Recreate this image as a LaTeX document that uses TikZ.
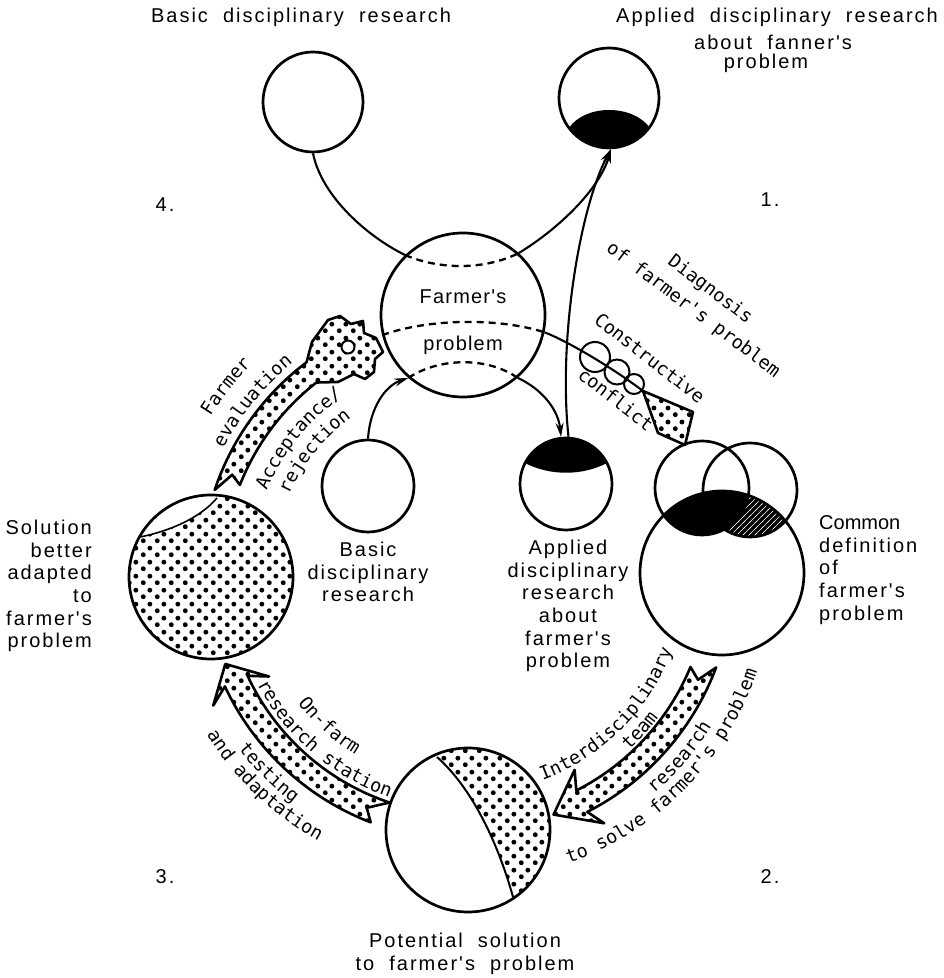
\documentclass[tikz,border=0pt]{standalone}
\usepackage{fontspec}
\usetikzlibrary{calc,arrows.meta,patterns,decorations.text,backgrounds}
\newfontfamily\labfont{Liberation Sans}[LetterSpace=10,WordSpace=2]
\newfontfamily\innerfont{Liberation Sans}[LetterSpace=6]
\newfontfamily\plainfont{Liberation Sans}
\newfontfamily\monofont{DejaVu Sans Mono}

\pgfdeclarepatternformonly{bigdots}{\pgfqpoint{0pt}{0pt}}{\pgfqpoint{14pt}{14pt}}{\pgfqpoint{14pt}{14pt}}{%
  \pgfpathcircle{\pgfqpoint{3.5pt}{3.5pt}}{2.6pt}%
  \pgfpathcircle{\pgfqpoint{10.5pt}{10.5pt}}{2.6pt}%
  \pgfusepath{fill}}
\pgfdeclarepatternformonly{slashes}{\pgfqpoint{-1pt}{-1pt}}{\pgfqpoint{7pt}{7pt}}{\pgfqpoint{6pt}{6pt}}{%
  \pgfsetlinewidth{0.7pt}%
  \pgfpathmoveto{\pgfqpoint{-1pt}{-1pt}}\pgfpathlineto{\pgfqpoint{7pt}{7pt}}\pgfusepath{stroke}}

\begin{document}
\begin{tikzpicture}[x=1pt, y=1pt,
    disc/.style={circle, draw, line width=2.7pt, inner sep=0pt},
    lab/.style={font=\labfont\fontsize{20}{22.6}\selectfont, inner sep=0pt},
    tw/.style={font=\monofont\fontsize{18.5}{18.5}\selectfont, inner sep=0pt},
    link/.style={line width=2.1pt},
    dashedarc/.style={line width=2.3pt, dash pattern=on 7pt off 5pt},
    arrowed/.style={-{Stealth[length=14pt,width=8pt]}},
    fatarrow/.style={line width=2.6pt, line join=round, pattern=bigdots},
    arctext/.style={decorate, decoration={text along path, text align=center,
        text={|\monofont\fontsize{18.5}{18.5}\selectfont|#1}}},
    ]

    \useasboundingbox (0,0) rectangle (944,978);

    % Circles
    \node[disc, minimum size=100pt] (basicTop) at (313,876) {};
    \node[disc, minimum size=100pt] (appliedTop) at (609,880) {};
    \node[disc, minimum size=164pt] (farmer) at (463,663) {};
    \node[disc, minimum size=92pt] (basicLow) at (368,492) {};
    \node[disc, minimum size=92pt] (appliedLow) at (566,494) {};
    \node[disc, minimum size=164pt] (common) at (722,405) {};
    \node[disc, minimum size=94pt] (viewA) at (702,490) {};
    \node[disc, minimum size=94pt] (viewB) at (750,488) {};
    \node[disc, minimum size=164pt] (potential) at (468,148) {};
    \node[disc, minimum size=164pt] (solution) at (211,401) {};
    \coordinate (cyc) at (466,404);
    \coordinate (clash) at (643,587);

    % Shading inside the circles
    \begin{scope}[on background layer]
    \fill[white] (0,0) rectangle (944,978);
    \begin{scope}
        \clip (appliedTop.center) circle[radius=50];
        \fill (569,850) .. controls (585,874) and (633,874) .. (650,850) -- (665,850) -- (665,820) -- (555,820) -- (555,850) -- cycle;
    \end{scope}
    \begin{scope}
        \clip (appliedLow.center) circle[radius=46];
        \fill (525,515) .. controls (550,502) and (582,502) .. (607,515) -- (615,515) -- (615,545) -- (515,545) -- (515,515) -- cycle;
    \end{scope}
    \begin{scope}
        \clip (common.center) circle[radius=82];
        \fill (viewA.center) circle[radius=47];
        \fill (viewB.center) circle[radius=47];
        \clip (viewB.center) circle[radius=47];
        \fill[pattern=slashes, pattern color=white, even odd rule] (viewA.center) circle[radius=47] (690,380) rectangle (810,545);
    \end{scope}
    \begin{scope}
        \clip (potential.center) circle[radius=82];
        \fill[pattern=bigdots] (437,221) .. controls (472,190) and (498,135) .. (513,81) -- (513,50) -- (560,50) -- (560,240) -- (437,240) -- cycle;
        \draw[line width=2pt] (437,221) .. controls (472,190) and (498,135) .. (513,81);
    \end{scope}
    \begin{scope}
        \clip (solution.center) circle[radius=82];
        \fill[pattern=bigdots] (solution.center) circle[radius=82];
        \fill[white] (140,441) .. controls (170,447) and (200,460) .. (217,480) -- (217,490) -- (120,490) -- (120,441) -- cycle;
        \draw[line width=1.6pt] (140,441) .. controls (170,447) and (200,460) .. (217,480);
    \end{scope}
    \end{scope}

    % Thin connectors
    \draw[link] (basicTop.south) .. controls (322,780) and (370,740) .. (farmer.134);
    \draw[dashedarc] (farmer.134) .. controls (440,708) and (485,708) .. (farmer.48);
    \draw[link, arrowed] (farmer.48) .. controls (560,750) and (600,790) .. (appliedTop.272);
    \draw[link, arrowed] (appliedLow.87) .. controls (558,640) and (580,770) .. (appliedTop.272);
    \draw[link, arrowed] (basicLow.north) .. controls (370,570) and (385,592) .. (farmer.229);
    \draw[dashedarc] (farmer.229) .. controls (440,621) and (488,621) .. (farmer.311);
    \draw[link, arrowed] (farmer.311) .. controls (540,590) and (558,570) .. (appliedLow.96);
    \draw[dashedarc] (farmer.194) .. controls (430,660) and (500,660) .. (farmer.348);
    \draw[link] (farmer.348) .. controls (565,638) and (610,612) .. (clash);

    % Constructive conflict
    \node[circle, draw, line width=2pt, minimum size=30pt] (talkA) at (595,621) {};
    \node[circle, draw, line width=2pt, minimum size=25pt] (talkB) at (617,606) {};
    \node[circle, draw, line width=2pt, minimum size=20pt] (talkC) at (634,594) {};
    \draw[fatarrow] (clash) -- (693,566) -- (685,533) -- (658,545) -- cycle;

    % Block arrows of the cycle
    \draw[fatarrow] ($(cyc)+(-22.5:243)$) arc[start angle=-22.5, end angle=-63, radius=243]
        -- ($(cyc)+(-61:224)$) -- ($(cyc)+(-70:256)$) -- ($(cyc)+(-61:285)$)
        -- ($(cyc)+(-63:267)$) arc[start angle=-63, end angle=-20.5, radius=267]
        -- ($(cyc)+(-24.5:255)$) -- cycle;
    \draw[fatarrow] ($(cyc)+(251.5:241)$) arc[start angle=251.5, end angle=205, radius=241]
        -- ($(cyc)+(207.5:222)$) -- ($(cyc)+(200.5:257)$) -- ($(cyc)+(207.5:285)$)
        -- ($(cyc)+(205:266)$) arc[start angle=205, end angle=249, radius=266]
        -- ($(cyc)+(247:254)$) -- cycle;
    \draw[fatarrow] ($(cyc)+(161.5:265)$) arc[start angle=161.5, end angle=127, radius=265]
        -- (312,636) -- (328,658) -- (340,662) -- (351,654) -- (363,657) -- (364,645)
        -- (376,640) -- (383,626) -- (375,619) -- (374,606) -- (365,599) -- (354,604)
        -- (338,596) -- ($(cyc)+(128:243)$) arc[start angle=128, end angle=158.5, radius=243]
        -- ($(cyc)+(157:254)$) -- cycle;
    \node[circle, draw, fill=white, line width=2pt, minimum size=13pt] (bloom) at (348,631) {};

    % Typewritten labels along the arrows
    \path[arctext=Farmer] ($(cyc)+(187:300)$) arc[start angle=187, end angle=97, radius=300];
    \path[arctext=evaluation] ($(cyc)+(186:273)$) arc[start angle=186, end angle=96, radius=273];
    \path[arctext={Acceptance/}] ($(cyc)+(186:216)$) arc[start angle=186, end angle=96, radius=216];
    \path[arctext=rejection] ($(cyc)+(186:194)$) arc[start angle=186, end angle=96, radius=194];
    \path[arctext=Interdisciplinary] ($(cyc)+(-90:220)$) arc[start angle=-90, end angle=0, radius=220];
    \path[arctext=team] ($(cyc)+(-87:240)$) arc[start angle=-87, end angle=3, radius=240];
    \path[arctext=research] ($(cyc)+(-85.6:289)$) arc[start angle=-85.6, end angle=4.4, radius=289];
    \path[arctext={to solve farmer's problem}] ($(cyc)+(-89.5:307)$) arc[start angle=-89.5, end angle=0.5, radius=307];
    \path[arctext=On-farm] ($(cyc)+(183:212)$) arc[start angle=183, end angle=273, radius=212];
    \path[arctext={research station}] ($(cyc)+(184.4:236)$) arc[start angle=184.4, end angle=274.4, radius=236];
    \path[arctext=testing] ($(cyc)+(180.2:287)$) arc[start angle=180.2, end angle=270.2, radius=287];
    \path[arctext={and adaptation}] ($(cyc)+(181.4:305)$) arc[start angle=181.4, end angle=271.4, radius=305];
    \node[tw, rotate=-37] (diagnosis) at (710,688) {Diagnosis};
    \node[tw, rotate=-37] (diagnosisOf) at (693,668) {of farmer's problem};
    \node[tw, rotate=-38] (constructive) at (650,620) {Constructive};
    \node[tw, rotate=-38] (conflict) at (616,579) {conflict};

    % Printed labels
    \node[lab] (topBasicLabel) at (301,961) {Basic disciplinary research};
    \node[lab] (topAppliedLabel) at (777,961) {Applied disciplinary research};
    \node[lab] (topAboutLabel) at (773,936) {about fanner's};
    \node[lab] (topProblemLabel) at (766,915) {problem};
    \node[lab, font=\innerfont\fontsize{20}{22.6}\selectfont] (farmerTop) at (463,681) {Farmer's};
    \node[lab, font=\innerfont\fontsize{20}{22.6}\selectfont] (farmerBottom) at (463,633) {problem};
    \node[lab, align=center] (basicLowLabel) at (368,406) {Basic\\disciplinary\\research};
    \node[lab, align=center] (appliedLowLabel) at (568,372) {Applied\\disciplinary\\research\\about\\farmer's\\problem};
    \node[lab, align=right, anchor=east] (solutionLabel) at (92,392) {Solution\\better\\adapted\\to\\farmer's\\problem};
    \node[lab, align=left, anchor=west] (commonLabel) at (819,408) {{\plainfont Common}\\definition\\of\\farmer's\\problem};
    \node[lab, align=center] (potentialLabel) at (465,24) {Potential solution\\to farmer's problem};
    \node[lab] (stepOne) at (770,778) {1.};
    \node[lab] (stepTwo) at (770,101) {2.};
    \node[lab] (stepThree) at (165,101) {3.};
    \node[lab] (stepFour) at (165,773) {4.};

\end{tikzpicture}
\end{document}
